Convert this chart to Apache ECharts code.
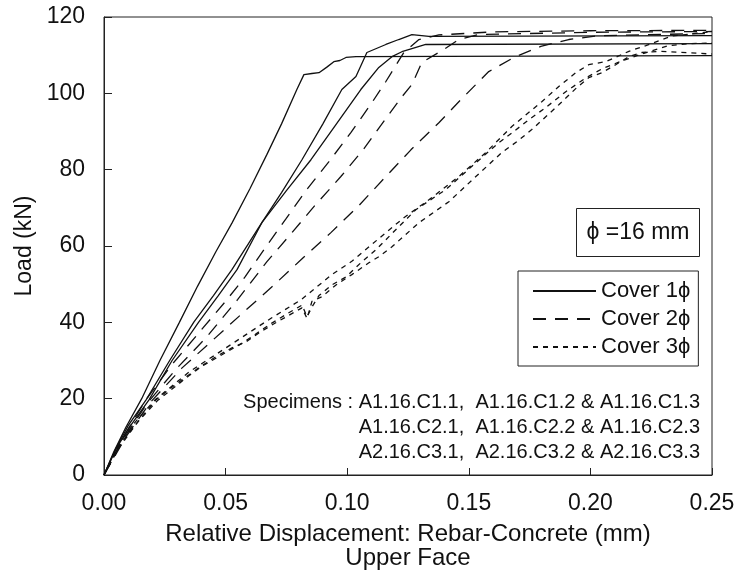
<!DOCTYPE html>
<html><head><meta charset="utf-8">
<script src="https://cdn.jsdelivr.net/npm/echarts@6/dist/echarts.min.js"></script>
<style>html,body{margin:0;padding:0;background:#fff}#c{width:741px;height:576px}</style>
</head><body><div id="c"></div>
<script>
// Cover 1 phi (solid)
const c1a = [[0,0],[0.004,6],[0.009,12.5],[0.0155,20],[0.023,30],[0.031,40],[0.0385,49.5],[0.046,58.5],[0.0526,66],[0.06,75],[0.067,84],[0.073,92],[0.0793,101],[0.0822,104.9],[0.0855,105.2],[0.0884,105.4],[0.0915,106.8],[0.0945,108.3],[0.097,108.6],[0.0995,109.4],[0.1036,109.6],[0.25,109.9]];
const c1b = [[0,0],[0.005,7],[0.01,13],[0.0173,19.7],[0.027,30],[0.037,40.1],[0.045,47],[0.0526,53.8],[0.0649,66.1],[0.073,74],[0.0814,82.6],[0.09,92],[0.0978,101],[0.1036,104.4],[0.1081,110.7],[0.1159,112.8],[0.1212,114.1],[0.1266,115.4],[0.1336,114.9],[0.25,115.1]];
const c1c = [[0,0],[0.005,7],[0.011,13],[0.0185,19.7],[0.028,30],[0.039,40.1],[0.047,47],[0.0547,53.8],[0.0649,66.1],[0.075,74.5],[0.0851,82.6],[0.095,91.5],[0.1056,101],[0.113,106.8],[0.1184,109.6],[0.1225,110.9],[0.1266,111.7],[0.1323,112.8],[0.25,113]];
// Cover 2 phi (long dash)
const c2a = [[0,0],[0.008,10],[0.017,19.5],[0.028,29],[0.04,38],[0.05,45.5],[0.058,51.9],[0.0666,59.8],[0.0748,67.1],[0.083,74.5],[0.0925,82.1],[0.1015,89.7],[0.1102,97.6],[0.1159,103.1],[0.1233,110.7],[0.1295,114.1],[0.1377,115.3],[0.16,116.1],[0.2,116.4],[0.25,116.5]];
const c2b = [[0,0],[0.008,9.5],[0.018,19],[0.03,28],[0.042,36],[0.055,46],[0.067,55.9],[0.0769,63.2],[0.0867,70.6],[0.0974,78.2],[0.1069,85.5],[0.1159,93.4],[0.1225,99.1],[0.1266,102.3],[0.1307,108.1],[0.1397,111.5],[0.1459,114.1],[0.1541,115.4],[0.2,116],[0.25,116.2]];
const c2c = [[0,0],[0.009,10],[0.019,19],[0.032,28],[0.045,35.5],[0.058,43],[0.0699,49.8],[0.081,56.4],[0.0933,63.5],[0.1048,70.6],[0.1159,78.2],[0.1262,85.2],[0.1377,92.3],[0.1459,97.8],[0.1582,105.7],[0.1685,109.4],[0.1796,112.3],[0.1911,114.1],[0.2035,115.1],[0.25,115.7]];
// Cover 3 phi (short dash)
const c3a = [[0,0],[0.006,8],[0.013,14],[0.021,19.7],[0.035,27],[0.047,32],[0.057,36.2],[0.069,41.2],[0.081,45.9],[0.0937,52.5],[0.1019,56],[0.1159,63.5],[0.1233,67.4],[0.1336,72.1],[0.1459,78.2],[0.157,84.5],[0.1677,91.3],[0.18,97.8],[0.187,101.8],[0.194,105.4],[0.1993,107.5],[0.2063,108.3],[0.2158,111],[0.2228,112.5],[0.2335,115],[0.25,116.2]];
const c3b = [[0,0],[0.006,7.5],[0.014,14],[0.022,19.5],[0.0349,26],[0.0403,28.5],[0.0567,34.5],[0.0637,37.5],[0.069,39.8],[0.076,42.5],[0.0814,44.5],[0.0835,41.5],[0.0855,44],[0.0884,47],[0.0937,49.8],[0.0995,51.9],[0.1056,55.6],[0.1118,59],[0.118,63],[0.1282,69.5],[0.1406,74.8],[0.152,81.3],[0.1624,87.1],[0.1685,90],[0.1747,93.1],[0.1817,96.3],[0.19,100.5],[0.198,104],[0.205,106.5],[0.213,108.5],[0.222,110.5],[0.232,112.5],[0.24,113],[0.25,113.2]];
const c3c = [[0,0],[0.006,7],[0.014,14],[0.0214,19.7],[0.0275,22.8],[0.0337,25.7],[0.039,28.1],[0.046,31],[0.0526,33.3],[0.0584,34.9],[0.0637,37.2],[0.069,39.3],[0.0748,41.4],[0.0814,43.8],[0.0835,41],[0.0855,45.5],[0.0896,46.7],[0.0954,49.8],[0.1019,52.5],[0.1089,55.6],[0.113,57.2],[0.1184,59.8],[0.1295,66.1],[0.1418,71.6],[0.1529,78.2],[0.1636,84.5],[0.1697,87.3],[0.1759,90.5],[0.187,97],[0.1944,101.5],[0.1993,104.1],[0.2047,105.4],[0.2104,107.5],[0.2158,109.6],[0.2211,110.7],[0.2289,111],[0.25,110.3]];

const seriesNames = ['Cover 1\u03D5','Cover 2\u03D5','Cover 3\u03D5'];
const xTicks = [0, 0.05, 0.10, 0.15, 0.20, 0.25];
const yTicks = [0, 20, 40, 60, 80, 100, 120];
const xTitle = 'Relative Displacement: Rebar-Concrete (mm)\nUpper Face';
const yTitle = 'Load (kN)';
const diaLabel = '\u03D5 =16 mm';
const specimenLines = ['Specimens : A1.16.C1.1,  A1.16.C1.2 & A1.16.C1.3','A1.16.C2.1,  A1.16.C2.2 & A1.16.C2.3','A2.16.C3.1,  A2.16.C3.2 & A2.16.C3.3'];

const FONT = '"Liberation Sans", Arial, Helvetica, sans-serif';
const dashTypes = ['solid', [13, 9], [5, 5]];
const groups = [[c1a,c1b,c1c],[c2a,c2b,c2c],[c3a,c3b,c3c]];
const series = [];
groups.forEach((g, gi) => g.forEach(d => series.push({
  name: seriesNames[gi], type: 'line', data: d, symbol: 'none', smooth: false,
  itemStyle: { color: '#111' },
  lineStyle: { color: '#111', width: 1.3, type: dashTypes[gi] }, animation: false
})));

const chart = echarts.init(document.getElementById('c'), null, { renderer: 'canvas' });
chart.setOption({
  backgroundColor: '#fff',
  animation: false,
  grid: { left: 104, right: 29, top: 17, bottom: 101, show: true, borderColor: '#222', borderWidth: 1 },
  xAxis: {
    type: 'value', min: xTicks[0], max: xTicks[xTicks.length-1], interval: 0.05,
    axisLine: { show: true, lineStyle: { color: '#222', width: 1 } },
    axisTick: { show: true, inside: true, length: 7, lineStyle: { color: '#222' } },
    splitLine: { show: false },
    axisLabel: { fontSize: 23, color: '#111', fontFamily: FONT, margin: 17, formatter: v => v.toFixed(2) },
    name: xTitle, nameLocation: 'middle', nameGap: 47,
    nameTextStyle: { fontSize: 24, color: '#111', fontFamily: FONT, lineHeight: 24 }
  },
  yAxis: {
    type: 'value', min: yTicks[0], max: yTicks[yTicks.length-1], interval: 20,
    axisLine: { show: true, lineStyle: { color: '#222', width: 1 } },
    axisTick: { show: true, inside: true, length: 8, lineStyle: { color: '#222' } },
    splitLine: { show: false },
    axisLabel: { fontSize: 23, color: '#111', fontFamily: FONT, margin: 19 },
    name: yTitle, nameLocation: 'middle', nameGap: 68, nameRotate: 90,
    nameTextStyle: { fontSize: 23, color: '#111', fontFamily: FONT }
  },
  legend: {
    data: seriesNames, orient: 'vertical', left: 518, top: 271,
    backgroundColor: '#fff', borderColor: '#222', borderWidth: 1,
    padding: [9, 8, 8, 14], itemWidth: 63, itemHeight: 14, itemGap: 6,
    selectedMode: false,
    itemStyle: { opacity: 0 },
    textStyle: { fontSize: 22, color: '#111', fontFamily: FONT }
  },
  graphic: [
    { type: 'group', left: 576, top: 208, children: [
      { type: 'rect', shape: { x: 0, y: 0, width: 123, height: 48 }, style: { fill: '#fff', stroke: '#222', lineWidth: 1 } },
      { type: 'text', x: 61.5, y: 24, style: { text: diaLabel, font: '23px ' + FONT, fill: '#111', align: 'center', verticalAlign: 'middle' } }
    ]},
    { type: 'text', x: 700, y: 402, style: { text: specimenLines[0], font: '20px ' + FONT, fill: '#111', align: 'right', verticalAlign: 'middle' } },
    { type: 'text', x: 700, y: 427, style: { text: specimenLines[1], font: '20px ' + FONT, fill: '#111', align: 'right', verticalAlign: 'middle' } },
    { type: 'text', x: 700, y: 452, style: { text: specimenLines[2], font: '20px ' + FONT, fill: '#111', align: 'right', verticalAlign: 'middle' } }
  ],
  series: series
});
</script></body></html>
